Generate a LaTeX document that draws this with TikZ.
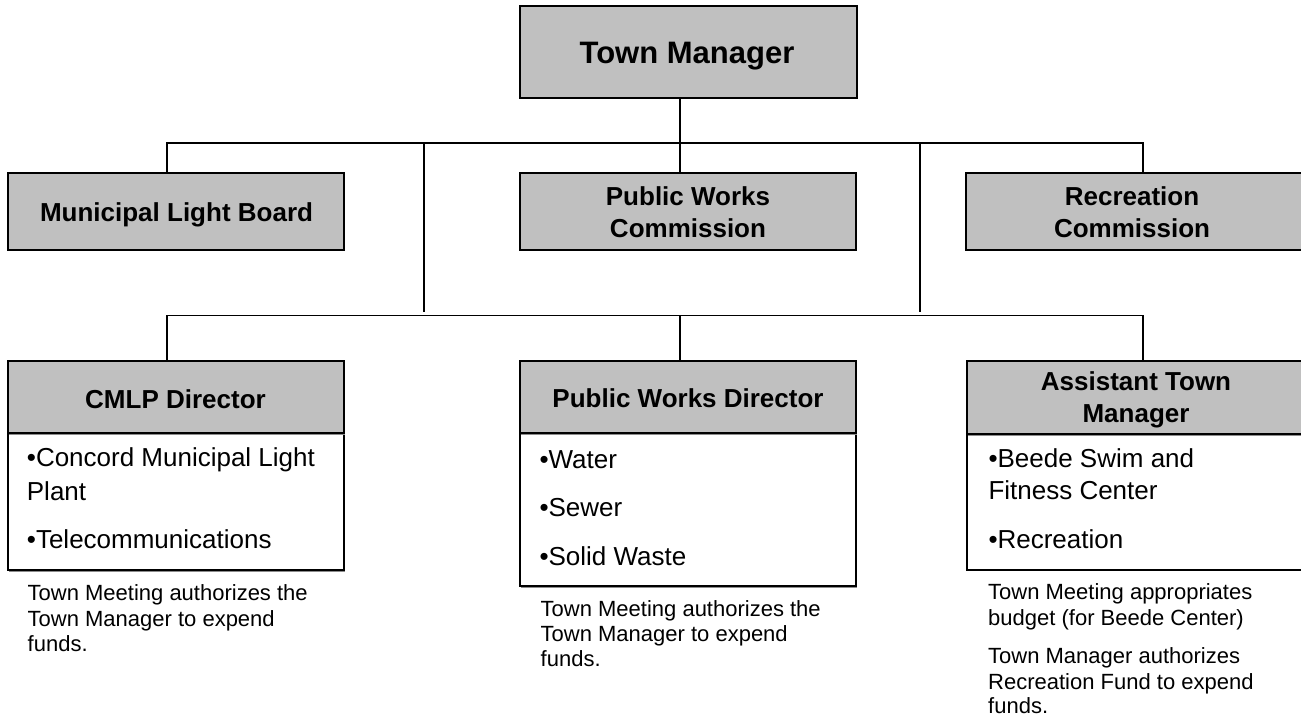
\documentclass[tikz,border=0pt]{standalone}
\usepackage{fontspec}
\setmainfont{Liberation Sans}
\usetikzlibrary{shadows}
\definecolor{boxgray}{HTML}{C0C0C0}
\definecolor{shadowgray}{HTML}{8C8C8C}
\tikzset{
  box/.style={draw=black, line width=2pt, fill=boxgray, inner sep=0pt, outer sep=0pt,
    general shadow={fill=shadowgray, shadow xshift=1.2pt, shadow yshift=-1.5pt}},
  wbox/.style={box, fill=white},
  ttl/.style={font=\bfseries\fontsize{31pt}{36pt}\selectfont, anchor=base, inner sep=0pt},
  hdr/.style={font=\bfseries\fontsize{26pt}{32pt}\selectfont, anchor=base, inner sep=0pt},
  body/.style={font=\fontsize{26pt}{33pt}\selectfont, anchor=base west, inner sep=0pt},
  note/.style={font=\fontsize{22pt}{26pt}\selectfont, anchor=base west, inner sep=0pt},
  conn/.style={line width=1.7pt, line cap=rect}
}
\begin{document}
\begin{tikzpicture}[x=1pt, y=-1pt]
\useasboundingbox (0,0) rectangle (1301,719);
\clip (0,0) rectangle (1301,719);
\fill[white] (0,0) rectangle (1301,719);

% junction coordinates
\coordinate (tl) at (167,143);
\coordinate (tr) at (1143,143);
\coordinate (bl) at (167,315.5);
\coordinate (br) at (1143,315.5);
\coordinate (jl) at (424,143);
\coordinate (jr) at (920,143);
\coordinate (jle) at (424,311);
\coordinate (jre) at (920,311);
\coordinate (mx) at (680,0);

% boxes
\node[box, minimum width=337pt, minimum height=92pt] (tm) at (688,52) {};
\node[box, minimum width=336pt, minimum height=77pt] (mlb) at (175.5,211.5) {};
\node[box, minimum width=336pt, minimum height=77pt] (pwc) at (688,211.5) {};
\node[box, minimum width=336pt, minimum height=77pt] (rc) at (1134,211.5) {};

\node[wbox, minimum width=336pt, minimum height=137pt] (cmlpb) at (175.5,501.5) {};
\node[box, minimum width=336pt, minimum height=72pt] (cmlph) at (175.5,397) {};
\node[wbox, minimum width=336pt, minimum height=153pt] (pwdb) at (688,509.5) {};
\node[box, minimum width=336pt, minimum height=72pt] (pwdh) at (688,397) {};
\node[wbox, minimum width=336pt, minimum height=135.5pt] (atmb) at (1135,501.75) {};
\node[box, minimum width=336pt, minimum height=73pt] (atmh) at (1135,397.5) {};

% connectors
\draw[conn] (tm.south -| mx) -- (pwc.north -| mx);
\draw[conn] (mlb.north -| tl) -- (tl) -- (tr) -- (rc.north -| tr);
\draw[conn] (jl) -- (jle);
\draw[conn] (jr) -- (jre);
\draw[conn] (cmlph.north -| bl) -- (bl) -- (br) -- (atmh.north -| br);
\draw[conn] (bl -| mx) -- (pwdh.north -| mx);

% titles
\node[ttl] (ttm) at (687,64) {Town Manager};
\node[hdr] (tmlb) at (176.5,221.7) {Municipal Light Board};
\node[hdr] (tpwc1) at (688,205.7) {Public Works};
\node[hdr] (tpwc2) at (688,237.3) {Commission};
\node[hdr] (trc1) at (1132,205.3) {Recreation};
\node[hdr] (trc2) at (1132,237.3) {Commission};
\node[hdr] (tcmlp) at (175.5,408.3) {CMLP Director};
\node[hdr] (tpwd) at (688,407.3) {Public Works Director};
\node[hdr] (tatm1) at (1136,390.7) {Assistant Town};
\node[hdr] (tatm2) at (1136,422.7) {Manager};

% bodies
\node[body] (c1) at (26.7,466.7) {•Concord Municipal Light};
\node[body] (c2) at (26.7,500.7) {Plant};
\node[body] (c3) at (26.7,548.3) {•Telecommunications};
\node[body] (p1) at (539.3,468.3) {•Water};
\node[body] (p2) at (539.3,516.7) {•Sewer};
\node[body] (p3) at (539.3,565) {•Solid Waste};
\node[body] (a1) at (988.3,467.3) {•Beede Swim and};
\node[body] (a2) at (988.3,499.3) {Fitness Center};
\node[body] (a3) at (988.3,548.3) {•Recreation};

% notes
\node[note] (cn1) at (27.5,600) {Town Meeting authorizes the};
\node[note] (cn2) at (27.5,626.5) {Town Manager to expend};
\node[note] (cn3) at (27.5,651.7) {funds.};
\node[note] (pn1) at (540.5,616.7) {Town Meeting authorizes the};
\node[note] (pn2) at (540.5,641.7) {Town Manager to expend};
\node[note] (pn3) at (540.5,666.7) {funds.};
\node[note] (an1) at (988,599) {Town Meeting appropriates};
\node[note] (an2) at (988,625) {budget (for Beede Center)};
\node[note] (an3) at (988,663.3) {Town Manager authorizes};
\node[note] (an4) at (988,689.3) {Recreation Fund to expend};
\node[note] (an5) at (988,713.3) {funds.};
\end{tikzpicture}
\end{document}
